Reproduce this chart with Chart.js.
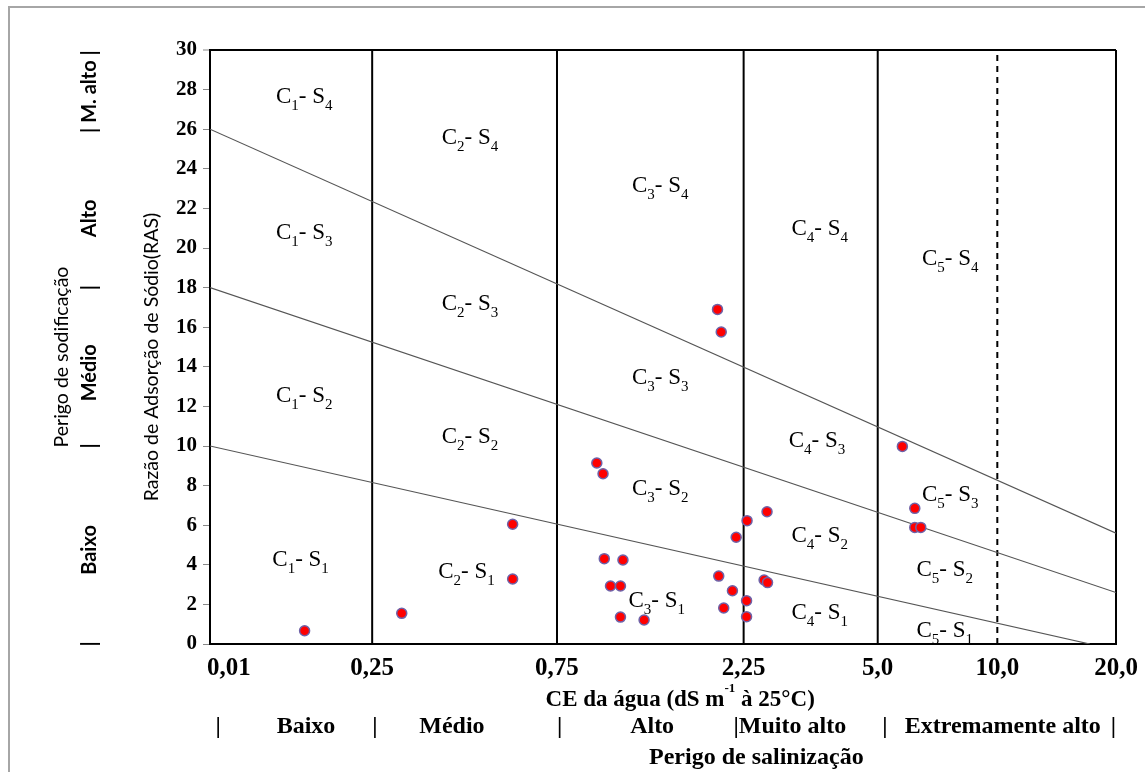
<!DOCTYPE html>
<html>
<head>
<meta charset="utf-8">
<script src="https://cdn.jsdelivr.net/npm/chart.js@4.4.1/dist/chart.umd.min.js"></script>
<style>
  body { margin: 0; background: #fff; }
  #wrap { width: 1145px; height: 772px; position: relative; }
</style>
</head>
<body>
<div id="wrap"><canvas id="diagram"></canvas></div>
<script>
// CE axis (dS m-1): tick values, labels and where each tick sits on the (non uniform) axis, 0..100
const ceTicks = [0.01, 0.25, 0.75, 2.25, 5.0, 10.0, 20.0];
const ceTickLabels = ["0,01", "0,25", "0,75", "2,25", "5,0", "10,0", "20,0"];
const tickPos = [0, 17.9, 38.3, 58.9, 73.7, 86.9, 100];

// samples
const ceSamples = [0.15, 0.33, 0.63, 0.63, 1.07, 1.12, 1.13, 1.28, 1.18, 1.26, 1.26, 1.45, 2.04, 2.07,
                   2.05, 2.16, 2.09, 2.19, 2.32, 2.31, 2.31, 2.73, 2.67, 2.74, 6.03, 6.55, 6.55, 6.80];
const rasSamples = [0.67, 1.55, 6.05, 3.28, 9.14, 8.6, 4.31, 4.24, 2.93, 2.93, 1.36, 1.21, 16.9, 15.76,
                    3.43, 2.69, 1.82, 5.39, 6.23, 2.19, 1.38, 6.68, 3.23, 3.10, 9.98, 6.85, 5.89, 5.89];

// sodium hazard boundaries S1/S2, S2/S3, S3/S4
const boundaryCE = [[0.01, 17.8], [0.01, 20.0], [0.01, 20.0]];
const boundaryRAS = [[10, 0], [18, 2.6], [26, 5.6]];

// zone label anchors (axis position, RAS) for C1..C5 x S1..S4
const zonePos = [
    [10.0, 10.4, 10.4, 10.4],
    [28.3, 28.7, 28.7, 28.7],
    [49.3, 49.7, 49.7, 49.7],
    [67.3, 67.3, 67.0, 67.3],
    [81.1, 81.1, 81.7, 81.7]
];
const zoneRas = [
    [4.3, 12.6, 20.8, 27.7],
    [3.7, 10.5, 17.2, 25.6],
    [2.2, 7.9, 13.5, 23.2],
    [1.6, 5.5, 10.3, 21.0],
    [0.7, 3.8, 7.6, 19.5]
];

const sodiumClasses = [["| M. alto |", 27.9], ["Alto", 21.5], ["|", 18], ["Médio", 13.7], ["|", 10], ["Baixo", 4.75], ["|", 0]];
const salinityClasses = [["|", 0.9], ["Baixo", 10.6], ["|", 18.2], ["Médio", 26.7], ["|", 38.6], ["Alto", 48.8],
                         ["|Muito alto", 64.0], ["|", 74.5], ["Extremamente alto", 87.5], ["|", 99.7]];

// piecewise mapping CE -> axis position
function toPos(ce) {
    for (let i = 1; i < ceTicks.length; i++) {
        if (ce <= ceTicks[i]) {
            const t = (ce - ceTicks[i - 1]) / (ceTicks[i] - ceTicks[i - 1]);
            return tickPos[i - 1] + t * (tickPos[i] - tickPos[i - 1]);
        }
    }
    return tickPos[tickPos.length - 1];
}

const serif = '"Liberation Serif", "Times New Roman", serif';
const sans = 'Lato, "Open Sans", sans-serif';

const datasets = [];
datasets.push({
    type: "scatter",
    data: ceSamples.map((c, i) => ({ x: toPos(c), y: rasSamples[i] })),
    backgroundColor: "#ff0000",
    borderColor: "#6e62a8",
    borderWidth: 1.5,
    pointRadius: 5
});
boundaryCE.forEach((ce, i) => {
    datasets.push({
        type: "line",
        data: ce.map((c, j) => ({ x: toPos(c), y: boundaryRAS[i][j] })),
        borderColor: "#555",
        borderWidth: 1.2,
        pointRadius: 0
    });
});
// salinity class limits
ceTicks.slice(1).forEach((c) => {
    datasets.push({
        type: "line",
        data: [{ x: toPos(c), y: 0 }, { x: toPos(c), y: 30 }],
        borderColor: "#000",
        borderWidth: 2,
        borderDash: c === 10 ? [6, 5] : [],
        pointRadius: 0,
        clip: false
    });
});

function drawZone(ctx, c, s, cx, cy) {
    const big = "23px " + serif, small = "15px " + serif;
    const parts = [["C", big, 0], [String(c), small, 7], ["- S", big, 0], [String(s), small, 7]];
    let total = 0;
    parts.forEach(p => { ctx.font = p[1]; total += ctx.measureText(p[0]).width; });
    let x = cx - total / 2;
    ctx.textAlign = "left";
    ctx.textBaseline = "alphabetic";
    parts.forEach(p => {
        ctx.font = p[1];
        ctx.fillText(p[0], x, cy + 7 + p[2]);
        x += ctx.measureText(p[0]).width;
    });
}

const textPlugin = {
    id: "texts",
    beforeDraw(chart) {
        const ctx = chart.ctx;
        ctx.save();
        ctx.strokeStyle = "#a6a6a6";
        ctx.lineWidth = 2;
        ctx.strokeRect(9, 7, 1300, 900);
        ctx.restore();
    },
    afterDraw(chart) {
        const ctx = chart.ctx;
        const xs = chart.scales.x, ys = chart.scales.y;
        ctx.save();
        ctx.fillStyle = "#000";

        for (let c = 0; c < 5; c++) {
            for (let s = 0; s < 4; s++) {
                drawZone(ctx, c + 1, s + 1, xs.getPixelForValue(zonePos[c][s]), ys.getPixelForValue(zoneRas[c][s]));
            }
        }

        // left side, rotated
        ctx.textAlign = "center";
        ctx.textBaseline = "middle";
        sodiumClasses.forEach(([t, v]) => {
            ctx.save();
            ctx.translate(90, ys.getPixelForValue(v));
            ctx.rotate(-Math.PI / 2);
            ctx.font = "bold 20px " + sans;
            ctx.fillText(t, 0, 0);
            ctx.restore();
        });
        [["Perigo de sodificação", 62], ["Razão de Adsorção de Sódio(RAS)", 152]].forEach(([t, x]) => {
            ctx.save();
            ctx.translate(x, 357);
            ctx.rotate(-Math.PI / 2);
            ctx.font = "19.5px " + sans;
            ctx.fillText(t, 0, 0);
            ctx.restore();
        });

        // x title with superscript
        const main1 = "CE da água (dS m", sup = "-1", main2 = " à 25°C)";
        const fb = "bold 23px " + serif, fs = "bold 13px " + serif;
        ctx.font = fb;
        const w1 = ctx.measureText(main1).width, w3 = ctx.measureText(main2).width;
        ctx.font = fs;
        const w2 = ctx.measureText(sup).width;
        let x = xs.getPixelForValue(51.9) - (w1 + w2 + w3) / 2;
        ctx.textAlign = "left";
        ctx.textBaseline = "alphabetic";
        ctx.font = fb; ctx.fillText(main1, x, 706); x += w1;
        ctx.font = fs; ctx.fillText(sup, x, 692); x += w2;
        ctx.font = fb; ctx.fillText(main2, x, 706);

        ctx.textAlign = "center";
        ctx.textBaseline = "middle";
        ctx.font = "bold 24px " + serif;
        salinityClasses.forEach(([t, v]) => {
            ctx.fillText(t, xs.getPixelForValue(v), 727);
        });
        ctx.fillText("Perigo de salinização", xs.getPixelForValue(60.3), 758);
        ctx.restore();
    }
};

new Chart(document.getElementById("diagram"), {
    type: "scatter",
    data: { datasets: datasets },
    options: {
        responsive: true,
        maintainAspectRatio: false,
        animation: false,
        layout: { padding: { top: 50, right: 29, left: 0, bottom: 0 } },
        plugins: { legend: { display: false }, tooltip: { enabled: false } },
        scales: {
            x: {
                type: "linear",
                min: 0,
                max: 100,
                afterBuildTicks: (s) => { s.ticks = tickPos.map(v => ({ value: v })); },
                afterFit: (s) => { s.height = 128; },
                ticks: {
                    autoSkip: false,
                    maxRotation: 0,
                    padding: 2,
                    color: "#000",
                    font: { family: serif, size: 25, weight: "bold" },
                    callback: (v, i) => (i === 0 ? "      " : "") + ceTickLabels[i]
                },
                grid: { display: false },
                border: { display: true, color: "#000", width: 2 }
            },
            y: {
                min: 0,
                max: 30,
                afterFit: (s) => { s.width = 210; },
                ticks: {
                    stepSize: 2,
                    padding: 6,
                    color: "#000",
                    font: { family: serif, size: 21, weight: "bold" }
                },
                grid: {
                    color: (c) => (c.tick && c.tick.value === 30 ? "#000" : "rgba(0,0,0,0)"),
                    lineWidth: (c) => (c.tick && c.tick.value === 30 ? 2 : 1),
                    tickColor: "#888",
                    tickWidth: 1,
                    tickLength: 7
                },
                border: { display: true, color: "#000", width: 2 }
            }
        }
    },
    plugins: [textPlugin]
});
</script>
</body>
</html>
